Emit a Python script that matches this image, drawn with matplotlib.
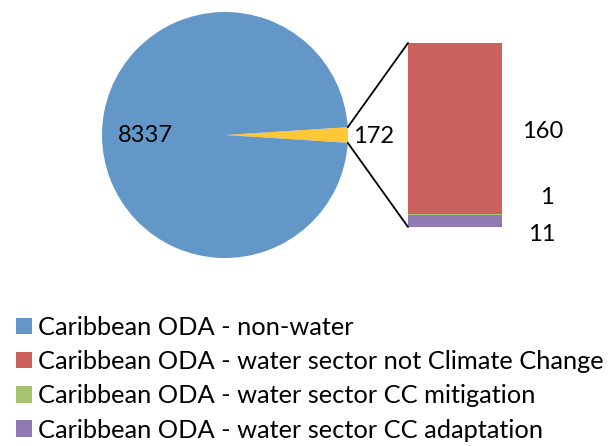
import matplotlib.pyplot as plt
from matplotlib.patches import ConnectionPatch
import numpy as np

plt.rcParams['font.family'] = ['Lato', 'DejaVu Sans']

# data
labels = ['Caribbean ODA - non-water',
          'Caribbean ODA - water sector not Climate Change',
          'Caribbean ODA - water sector CC mitigation',
          'Caribbean ODA - water sector CC adaptation']
non_water = 8337
water_parts = [160, 1, 11]          # not CC, mitigation, adaptation
colors = ['#6297C8', '#CB625E', '#A6C46F', '#917AB3']
other_color = '#FDC735'

water_total = sum(water_parts)
pie_vals = [water_total, non_water]

W, H = 611, 446
fig = plt.figure(figsize=(W / 100, H / 100), dpi=100)

def px_axes(x0, y0, x1, y1):
    # axes from pixel box (top-left origin)
    return fig.add_axes([x0 / W, 1 - y1 / H, (x1 - x0) / W, (y1 - y0) / H])

# pie
ax_pie = px_axes(102, 12, 348, 258)
half = water_total / sum(pie_vals) * 360 / 2
wedges, _ = ax_pie.pie(pie_vals, colors=[other_color, colors[0]],
                       startangle=-half, counterclock=True,
                       wedgeprops=dict(linewidth=0))
ax_pie.set_xlim(-1, 1)
ax_pie.set_ylim(-1, 1)
ax_pie.set_aspect('equal')
ax_pie.axis('off')

ax_pie.text(-0.65, 0.0, f'{non_water}', fontsize=17, ha='center', va='center')
ax_pie.text(1.21, -0.01, f'{water_total}', fontsize=17, ha='center', va='center')

# bar of pie
ax_bar = px_axes(408, 43, 502, 227)
stack = [water_parts[2], water_parts[1], water_parts[0]]
stack_col = [colors[3], colors[2], colors[1]]
bottom = 0
bars = []
for v, c in zip(stack, stack_col):
    b = ax_bar.bar(0, v, width=1, bottom=bottom, color=c, linewidth=0)
    bars.append(b)
    bottom += v
ax_bar.set_xlim(-0.5, 0.5)
ax_bar.set_ylim(0, water_total)
ax_bar.axis('off')

# value labels right of the bar
lab_y = [-0.04, 0.16, 0.52]   # axes fraction, adaptation / mitigation / not CC
lab_x = [1.42, 1.48, 1.43]
for v, x, y in zip(stack, lab_x, lab_y):
    ax_bar.text(x, y, f'{v}', transform=ax_bar.transAxes, fontsize=17,
                ha='center', va='center', clip_on=False)

# connector lines
th = np.deg2rad(half)
for sgn, ybar in [(1, water_total), (-1, 0)]:
    con = ConnectionPatch(xyA=(np.cos(th), sgn * np.sin(th)), coordsA=ax_pie.transData,
                          xyB=(-0.5, ybar), coordsB=ax_bar.transData,
                          color='black', lw=1.3)
    fig.add_artist(con)

# legend
handles = [wedges[1], bars[2][0], bars[1][0], bars[0][0]]
fig.legend(handles, labels, loc='upper left', bbox_to_anchor=(16 / W, 1 - 316 / H),
           frameon=False, fontsize=18.3, handlelength=0.62, handleheight=0.62,
           handletextpad=0.26, labelspacing=0.44, borderaxespad=0, borderpad=0)

fig.savefig('out.png', dpi=100)
